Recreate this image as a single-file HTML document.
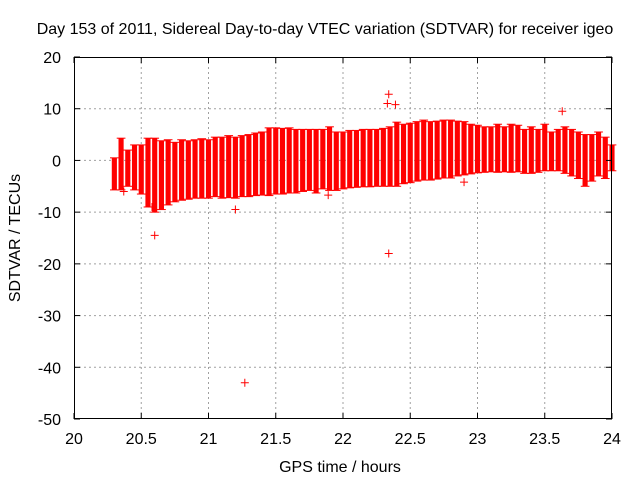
<!DOCTYPE html>
<html><head><meta charset="utf-8"><style>
body{margin:0;background:#fff}
svg text{font-family:"Liberation Sans",sans-serif;font-size:16px;fill:#000}
</style></head><body>
<svg id="chart" width="640" height="480" xmlns="http://www.w3.org/2000/svg">
<text x="325" y="34" text-anchor="middle">Day 153 of 2011, Sidereal Day-to-day VTEC variation (SDTVAR) for receiver igeo</text>
<g id="grid"></g>
<g id="marks"></g>
<g id="axes"></g>
<text x="340" y="472" text-anchor="middle">GPS time / hours</text>
<text transform="translate(20,238) rotate(-90)" text-anchor="middle">SDTVAR / TECUs</text>
</svg>
<script>
const xTicks=[20,20.5,21,21.5,22,22.5,23,23.5,24];
const xTickLabels=["20","20.5","21","21.5","22","22.5","23","23.5","24"];
const yTicks=[20,10,0,-10,-20,-30,-40,-50];
const yTickLabels=["20","10","0","-10","-20","-30","-40","-50"];
const times=[20.30,20.35,20.40,20.45,20.50,20.55,20.60,20.65,20.70,20.75,20.80,20.85,20.90,20.95,21.00,21.05,21.10,21.15,21.20,21.25,21.30,21.35,21.40,21.45,21.50,21.55,21.60,21.65,21.70,21.75,21.80,21.85,21.90,21.95,22.00,22.05,22.10,22.15,22.20,22.25,22.30,22.35,22.40,22.45,22.50,22.55,22.60,22.65,22.70,22.75,22.80,22.85,22.90,22.95,23.00,23.05,23.10,23.15,23.20,23.25,23.30,23.35,23.40,23.45,23.50,23.55,23.60,23.65,23.70,23.75,23.80,23.85,23.90,23.95,24.00];
const upper=[0.5,4.3,2,3,3,4.3,4.3,3.8,4,3.5,4,3.8,4,4.2,4,4.5,4.5,4.8,4.5,4.8,5,5.3,5.5,6.3,6.3,6.2,6.3,6,6,6,6,6,6.5,5.5,5.5,5.8,5.8,6,6,6,6.2,6.5,7.4,7,7.2,7.5,7.8,7.5,7.6,7.8,7.8,7.6,7.5,7,6.8,6.5,6.5,7,6.5,7,6.8,6,6.5,6,7,5.5,6,6.5,6,5.5,5,5,5.5,4.5,3];
const lower=[-5.7,-5.7,-5,-5.7,-6.5,-9,-10,-9.5,-8.6,-8,-7.7,-7.5,-7.3,-7.3,-7.3,-7,-7.3,-7.2,-7.3,-7,-7,-6.8,-6.7,-6.8,-6.5,-6.5,-6.3,-6.3,-6,-5.8,-6.3,-5.5,-5.8,-5.8,-5.5,-5.3,-5.2,-5.1,-5.1,-5,-5,-5,-5,-4.5,-4.3,-4,-3.8,-3.8,-3.6,-3.4,-3.4,-3,-2.8,-2.6,-2.4,-2.3,-2.2,-2.3,-2.2,-2.3,-2.2,-2.5,-2.5,-2.3,-2,-2,-2,-2.5,-3,-3.5,-5,-4,-3,-3.5,-2];
const outlierX=[20.6,20.58,21.27,22.34,22.33,22.34,22.39,21.89,22.9,23.63,21.2,20.37];
const outlierY=[-14.5,-9,-43,-18,11,12.8,10.8,-6.7,-4.2,9.5,-9.5,-6];
const NS="http://www.w3.org/2000/svg";
const L=74,R=612,T=57,B=419;
const sx=v=>L+(v-20)/4*(R-L);
const sy=v=>T+(20-v)/70*(B-T);
function mk(tag,attrs,parent){const e=document.createElementNS(NS,tag);for(const k in attrs)e.setAttribute(k,attrs[k]);parent.appendChild(e);return e;}
const grid=document.getElementById('grid'),marks=document.getElementById('marks'),axes=document.getElementById('axes');
xTicks.forEach((t,i)=>{const x=sx(t);
 if(i>0&&i<xTicks.length-1){const g=mk('line',{x1:x,x2:x,y1:T,y2:B,stroke:'#a0a0a0','stroke-dasharray':'2,3'},grid);
 
 }
 mk('line',{x1:x,x2:x,y1:B,y2:B-6,stroke:'#000'},axes);mk('line',{x1:x,x2:x,y1:T,y2:T+6,stroke:'#000'},axes);
 const tx=mk('text',{x:x,y:B+25,'text-anchor':'middle'},axes);tx.textContent=xTickLabels[i];
 
 });
yTicks.forEach((t,i)=>{const y=sy(t);
 if(i>0&&i<yTicks.length-1){const g=mk('line',{x1:L,x2:R,y1:y,y2:y,stroke:'#a0a0a0','stroke-dasharray':'2,3'},grid);
 
 }
 mk('line',{x1:L,x2:L+6,y1:y,y2:y,stroke:'#000'},axes);mk('line',{x1:R,x2:R-6,y1:y,y2:y,stroke:'#000'},axes);
 const tx=mk('text',{x:61,y:y+6,'text-anchor':'end'},axes);tx.textContent=yTickLabels[i];
 
 });
const w=(sx(times[1])-sx(times[0]));
times.forEach((t,i)=>{const x=sx(t);const y1=sy(upper[i]),y2=sy(lower[i]);
 const r=mk('rect',{x:x-w/2+0.8,y:y1,width:w-1.6,height:y2-y1,fill:'#ff0000'},marks);
 
 
 mk('line',{x1:x-w/2-1,x2:x+w/2+1,y1:y1,y2:y1,stroke:'#ff0000'},marks);
 mk('line',{x1:x-w/2-1,x2:x+w/2+1,y1:y2,y2:y2,stroke:'#ff0000'},marks);});
outlierX.forEach((t,i)=>{const x=sx(t),y=sy(outlierY[i]);
 const g=mk('path',{d:`M${x-4},${y}H${x+4}M${x},${y-4}V${y+4}`,stroke:'#ff0000','stroke-width':1},marks);
 
 });
const fr=mk('rect',{x:L+0.5,y:T+0.5,width:R-L-1,height:B-T-1,fill:'none',stroke:'#000'},axes);


</script>
</body></html>
